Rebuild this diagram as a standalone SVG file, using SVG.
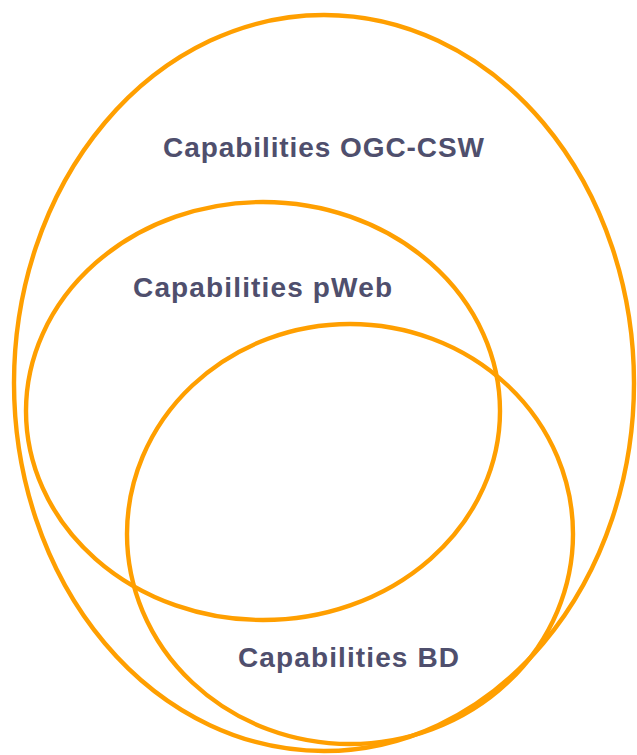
<svg xmlns="http://www.w3.org/2000/svg" width="637" height="755" viewBox="0 0 637 755">
<style>
.e{fill:none;stroke:#FF9F00;stroke-width:4.4}
.t{font-family:"Liberation Sans",Arial,sans-serif;font-weight:bold;font-size:28px;fill:#4F4F6D;letter-spacing:1px}
</style>
<rect width="637" height="755" fill="#fff"/>
<g id="ogc-csw">
<ellipse class="e" cx="324" cy="383" rx="310" ry="368"/>
<text class="t" x="163" y="157" textLength="322" lengthAdjust="spacing">Capabilities OGC-CSW</text>
</g>
<g id="pweb">
<ellipse class="e" cx="263" cy="411" rx="237" ry="209"/>
<text class="t" x="133" y="297" textLength="260" lengthAdjust="spacing">Capabilities pWeb</text>
</g>
<g id="bd">
<ellipse class="e" cx="350" cy="534" rx="223" ry="210"/>
<text class="t" x="238" y="667" textLength="222" lengthAdjust="spacing">Capabilities BD</text>
</g>
</svg>
